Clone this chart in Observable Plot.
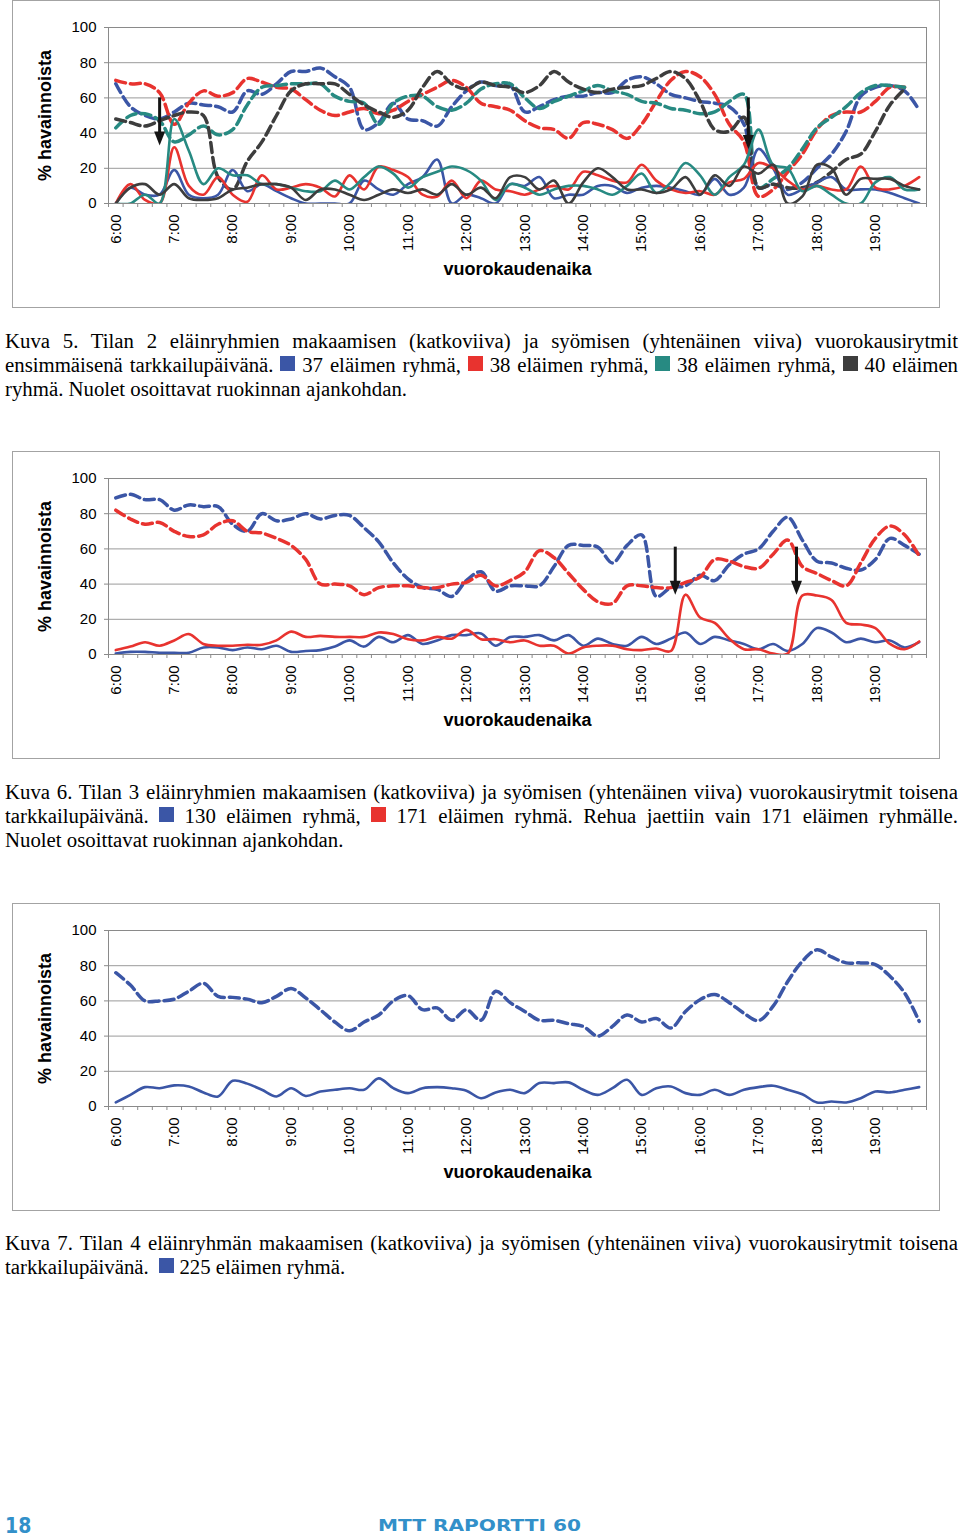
<!DOCTYPE html>
<html>
<head>
<meta charset="utf-8">
<script src="https://cdn.jsdelivr.net/npm/d3@7"></script>
<script src="https://cdn.jsdelivr.net/npm/@observablehq/plot@0.6"></script>
<style>
  body { margin: 0; background: #fff; }
  #page { position: relative; width: 960px; height: 1537px; overflow: hidden; background: #fff; font-family: "Liberation Sans", Arial, sans-serif; }
  .box { position: absolute; left: 12px; width: 926px; height: 306px; border: 1px solid #a3a3a3; }
  .box svg { display: block; }
  .cap { position: absolute; left: 5px; width: 953px; font-family: "Liberation Serif", "Times New Roman", serif; font-size: 20.8px; line-height: 24px; color: #000; }
  .cap .j { text-align: justify; text-align-last: justify; }
  .sq { display: inline-block; width: 15px; height: 15px; vertical-align: 1px; }
  .pg { position: absolute; left: 5px; top: 1514px; font-family: "Liberation Sans Narrow", "DejaVu Sans Condensed", sans-serif; font-weight: bold; font-size: 21px; color: #3290c9; }
  .rap { position: absolute; left: 378px; top: 1516px; font-family: "DejaVu Sans", sans-serif; font-weight: bold; font-size: 16.5px; color: #3290c9; transform: scaleX(1.22); transform-origin: left center; white-space: nowrap; }
</style>
</head>
<body>
<div id="page">
  <div class="box" id="chart1" style="top:0px"></div>
  <div class="cap" style="top:329px">
    <div class="j">Kuva 5. Tilan 2 eläinryhmien makaamisen (katkoviiva) ja syömisen (yhtenäinen viiva) vuorokausirytmit</div>
    <div class="j">ensimmäisenä tarkkailupäivänä. <span class="sq" style="background:#3b56a6"></span> 37 eläimen ryhmä, <span class="sq" style="background:#e8332f"></span> 38 eläimen ryhmä, <span class="sq" style="background:#278a82"></span> 38 eläimen ryhmä, <span class="sq" style="background:#3d3d3d"></span> 40 eläimen</div>
    <div>ryhmä. Nuolet osoittavat ruokinnan ajankohdan.</div>
  </div>

  <div class="box" id="chart2" style="top:451px"></div>
  <div class="cap" style="top:780px">
    <div class="j">Kuva 6. Tilan 3 eläinryhmien makaamisen (katkoviiva) ja syömisen (yhtenäinen viiva) vuorokausirytmit toisena</div>
    <div class="j">tarkkailupäivänä. <span class="sq" style="background:#3b56a6"></span> 130 eläimen ryhmä, <span class="sq" style="background:#e8332f"></span> 171 eläimen ryhmä. Rehua jaettiin vain 171 eläimen ryhmälle.</div>
    <div>Nuolet osoittavat ruokinnan ajankohdan.</div>
  </div>

  <div class="box" id="chart3" style="top:903px"></div>
  <div class="cap" style="top:1231px">
    <div class="j">Kuva 7. Tilan 4 eläinryhmän makaamisen (katkoviiva) ja syömisen (yhtenäinen viiva) vuorokausirytmit toisena</div>
    <div>tarkkailupäivänä.&nbsp; <span class="sq" style="background:#3b56a6"></span> 225 eläimen ryhmä.</div>
  </div>

  <div class="pg">18</div>
  <div class="rap">MTT RAPORTTI 60</div>
</div>
<script>
// ---- categories / tick labels ----
const hourLabels = ["6:00","7:00","8:00","9:00","10:00","11:00","12:00","13:00","14:00","15:00","16:00","17:00","18:00","19:00"];
const slotsPerHour = 4;      // 15-minute observations
const slotCount = 56;        // 6:00 ... 19:45
const yTickValues = [0, 20, 40, 60, 80, 100];
const yTitle = "% havainnoista";
const xTitle = "vuorokaudenaika";

// ---- Kuva 5 (Tilan 2): lying (dashed) ----
const k5LieG37 = [68,55,50,48,52,57,56,55,52,64,62,68,75,75,77,72,66,42,46,57,48,47,44,55,64,69,67,67,52,55,59,61,61,63,63,70,72,68,62,60,58,57,55,45,9,11,8,12,20,28,41,61,66,67,64,53];
const k5LieG38a = [70,68,68,63,45,57,64,61,63,71,69,66,65,59,53,50,52,54,51,53,58,62,66,70,66,57,55,53,47,43,42,37,46,45,42,37,45,58,70,75,72,62,45,35,4,8,18,28,42,50,52,52,58,66,66,null];
const k5LieG38b = [43,50,51,47,35,39,44,39,42,56,66,67,68,68,68,61,58,57,45,57,61,61,55,53,57,65,68,68,60,54,58,61,64,67,64,62,58,57,54,53,51,52,58,62,9,14,20,31,43,49,55,63,67,67,66,null];
const k5LieG40 = [48,46,44,47,50,52,50,15,8,24,35,50,64,68,68,68,62,56,52,49,53,66,75,68,65,69,67,66,63,67,75,69,65,63,65,66,67,71,75,71,58,42,41,49,9,11,9,9,12,18,25,28,41,56,65,null];
// ---- Kuva 5: eating (solid) ----
const k5EatG37 = [0,9,5,5,19,5,3,5,19,7,11,7,3,0,0,0,0,13,8,5,11,15,25,0,5,3,0,11,10,15,3,5,5,10,10,6,9,10,9,7,5,14,5,9,31,20,5,8,12,15,8,8,8,6,3,0];
const k5EatG38a = [0,11,2,0,32,10,5,15,5,1,16,8,9,11,9,4,16,8,21,19,15,5,4,13,3,13,8,7,5,8,10,8,18,16,13,12,22,13,8,6,7,5,12,14,23,20,13,8,10,8,8,21,9,8,10,15];
const k5EatG38b = [0,0,5,0,48,30,11,20,16,16,11,11,9,7,7,13,8,15,21,17,9,15,18,21,19,13,2,11,9,5,8,10,10,8,5,10,17,6,12,23,16,5,15,22,42,22,20,7,10,5,0,0,12,15,8,8];
const k5EatG40 = [0,9,11,5,11,3,2,3,8,9,11,11,9,2,8,8,5,2,5,8,6,8,5,11,5,9,3,15,15,8,13,0,12,20,15,8,8,6,8,15,5,16,10,21,17,22,0,4,22,20,5,14,14,14,10,8];
// feeding times (slot index) with arrow span in %
const k5Feed = [{slot: 3.0, from: 60, to: 33}, {slot: 43.3, from: 60, to: 31}];

// ---- Kuva 6 (Tilan 3) ----
const k6LieG130 = [89,91,88,88,82,85,84,84,74,70,80,76,77,80,77,79,79,72,64,52,43,38,37,33,42,47,36,39,39,39,50,62,62,61,52,62,68,33,38,39,45,42,51,57,60,70,78,65,53,52,49,48,54,66,62,57];
const k6LieG171 = [82,77,74,75,70,67,68,74,76,70,69,66,62,54,40,40,39,34,38,39,39,38,38,40,41,45,39,42,47,59,55,46,37,30,29,39,39,38,38,41,44,54,53,50,49,57,65,50,46,42,39,52,66,73,68,56];
const k6EatG130 = [0.6,1.5,1.5,1,1,1,4,4,2.5,4,3,5,1.5,2,2.5,4.5,8,4.5,10,7,11,6,8,11,11,12,5,10,10,11,8,11,5,9,6,5,10,6,9,12.5,6,10,8,6,3,6,2,6,15,12.5,7,9,7,8,4,7];
const k6EatG171 = [2.5,4.5,7,5,8,11.6,6,5,5,5.5,5.5,8,13,10,10.6,10,10,10,12.5,11.6,8.7,8,10,9,14,8.7,8.7,7,8,5,5,0.5,4,5,5,3,2.5,3.4,2,34,21,18,9,3,3,0.5,0.5,33.5,33.5,31,18,17,15,6,3,7.4];
const k6Feed = [{slot: 38.3, from: 61, to: 34}, {slot: 46.6, from: 61, to: 34}];

// ---- Kuva 7 (Tilan 4) ----
const k7LieG225 = [76,69,60,60,61,65.5,70,62.6,62,61,59,62.6,67,61.7,55,48,43,48,52,60,63,55,56,49,55,49,65.5,59,54,49,49,47,45.5,40,45.5,52,48,50,44.6,54,60.7,63.6,59,53,48.8,57,71,82.5,89,85,81.6,81.6,80.6,74,64.5,48.4];
const k7EatG225 = [2.3,6.6,11,10.4,12,11.4,8,5.7,14.6,13,9.5,5.7,10.4,6,8.5,9.5,10.4,9.5,16,10.4,7.6,10.4,11,10.4,9,4.7,8,9.5,7.6,13.3,13.3,13.7,9.5,6.6,10.4,15.2,6.6,10.4,11.4,7.6,6.6,9.5,6.6,9.5,11,11.8,9.5,7,2.3,2.8,2.3,4.7,8.5,8,9.5,11];

// ---- styles ----
const C = {blue: "#3b56a6", red: "#e8332f", teal: "#278a82", dark: "#3d3d3d"};
const gridColor = "#9a9a9a";
const axisColor = "#8a8a8a";

const toPoints = (vals) => vals.map((v, i) => ({slot: i, v})).filter(d => d.v != null);

const arrowHead = {
  draw(ctx) {
    ctx.moveTo(-5.5, -14);
    ctx.lineTo(5.5, -14);
    ctx.lineTo(0, 0);
    ctx.closePath();
  }
};

function buildChart(series, feeds) {
  const boundaries = d3.range(-0.5, slotCount, 1);
  const hourTicks = hourLabels.map((_, k) => k * slotsPerHour);
  const marks = [
    Plot.gridY([20, 40, 60, 80], {stroke: gridColor, strokeOpacity: 1}),
    Plot.frame({stroke: axisColor}),
    Plot.axisY({ticks: yTickValues, tickSize: 4, tickPadding: 8, stroke: axisColor, fill: "#000", label: null, fontSize: 15}),
    Plot.axisX({ticks: boundaries, tickSize: 4, tickFormat: () => "", stroke: axisColor, label: null}),
    Plot.axisX({ticks: hourTicks, tickSize: 0, tickPadding: 11, tickRotate: -90, tickFormat: d => hourLabels[d / slotsPerHour], fill: "#000", label: null, fontSize: 15}),
    Plot.text([yTitle], {frameAnchor: "left", textAnchor: "middle", dx: -63, rotate: -90, fontWeight: "bold", fontSize: 18, fill: "#000"}),
    Plot.text([xTitle], {frameAnchor: "bottom", textAnchor: "middle", dy: 71, fontWeight: "bold", fontSize: 18, fill: "#000"})
  ];
  for (const s of series.filter(s => s.dashed)) {
    marks.push(Plot.line(toPoints(s.values), {x: "slot", y: "v", stroke: s.color, strokeWidth: 3.5, strokeDasharray: "10,5", curve: "catmull-rom", clip: true}));
  }
  for (const s of series.filter(s => !s.dashed)) {
    marks.push(Plot.line(toPoints(s.values), {x: "slot", y: "v", stroke: s.color, strokeWidth: 2.6, curve: "catmull-rom", clip: true}));
  }
  if (feeds) {
    marks.push(Plot.ruleX(feeds, {x: "slot", y1: "from", y2: d => d.to + 6, stroke: "#151515", strokeWidth: 3}));
    marks.push(Plot.dot(feeds, {x: "slot", y: "to", symbol: arrowHead, fill: "#151515", stroke: "none"}));
  }
  return Plot.plot({
    width: 926, height: 306,
    marginLeft: 95, marginRight: 13, marginTop: 26, marginBottom: 104,
    x: {domain: [-0.5, slotCount - 0.5]},
    y: {domain: [0, 100]},
    style: {fontFamily: "'Liberation Sans', Arial, sans-serif", fontSize: "15px", background: "transparent", color: "#000"},
    marks
  });
}

document.getElementById("chart1").append(buildChart([
  {values: k5LieG37, color: C.blue, dashed: true},
  {values: k5LieG38a, color: C.red, dashed: true},
  {values: k5LieG38b, color: C.teal, dashed: true},
  {values: k5LieG40, color: C.dark, dashed: true},
  {values: k5EatG37, color: C.blue},
  {values: k5EatG38a, color: C.red},
  {values: k5EatG38b, color: C.teal},
  {values: k5EatG40, color: C.dark}
], k5Feed));

document.getElementById("chart2").append(buildChart([
  {values: k6LieG130, color: C.blue, dashed: true},
  {values: k6LieG171, color: C.red, dashed: true},
  {values: k6EatG130, color: C.blue},
  {values: k6EatG171, color: C.red}
], k6Feed));

document.getElementById("chart3").append(buildChart([
  {values: k7LieG225, color: C.blue, dashed: true},
  {values: k7EatG225, color: C.blue}
], null));
</script>
</body>
</html>
